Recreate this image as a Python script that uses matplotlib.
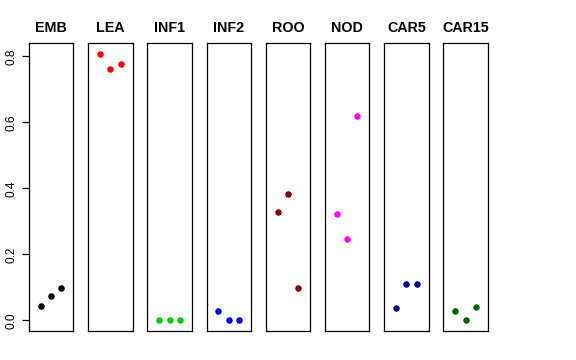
import numpy as np
import matplotlib.pyplot as plt

plt.rcParams['font.family'] = ['Liberation Sans', 'DejaVu Sans']

tissues = ['EMB', 'LEA', 'INF1', 'INF2', 'ROO', 'NOD', 'CAR5', 'CAR15']
colors = ['black', 'red', '#00cd00', 'blue', '#8b0000', 'magenta', '#00008b', '#006400']
replicate = [1, 2, 3]
values = [
    [0.043, 0.074, 0.097],
    [0.807, 0.762, 0.777],
    [0.0, 0.0, 0.0],
    [0.029, 0.0, 0.0],
    [0.327, 0.383, 0.099],
    [0.322, 0.247, 0.618],
    [0.038, 0.109, 0.109],
    [0.027, 0.0, 0.039],
]

W, H = 576, 360
fig = plt.figure(figsize=(W / 100, H / 100), dpi=100)

all_vals = np.concatenate(values)
lo, hi = all_vals.min(), all_vals.max()
pad = (hi - lo) * 0.04

left0, step, width = 29, 59.2, 44.3
top, bottom = 43.3, 331

for i, (name, col, vals) in enumerate(zip(tissues, colors, values)):
    ax = fig.add_axes([(left0 + i * step) / W, (H - bottom) / H, width / W, (bottom - top) / H])
    ax.scatter(replicate, vals, s=22, color=col, linewidths=0, zorder=3)
    ax.set_xlim(-0.16, 4.16)
    ax.set_ylim(lo - pad, hi + pad)
    ax.set_xticks([])
    for sp in ax.spines.values():
        sp.set_linewidth(0.9)
        sp.set_color('black')
    ax.set_title(name, fontsize=10.3, fontweight='bold', pad=8)
    if i == 0:
        ax.set_yticks([0.0, 0.2, 0.4, 0.6, 0.8])
        ax.set_yticklabels(['0.0', '0.2', '0.4', '0.6', '0.8'], rotation=90, va='center', fontsize=8.6)
        ax.tick_params(axis='y', length=5, width=0.9, pad=3)
    else:
        ax.set_yticks([])

fig.savefig('out.png', dpi=100)
